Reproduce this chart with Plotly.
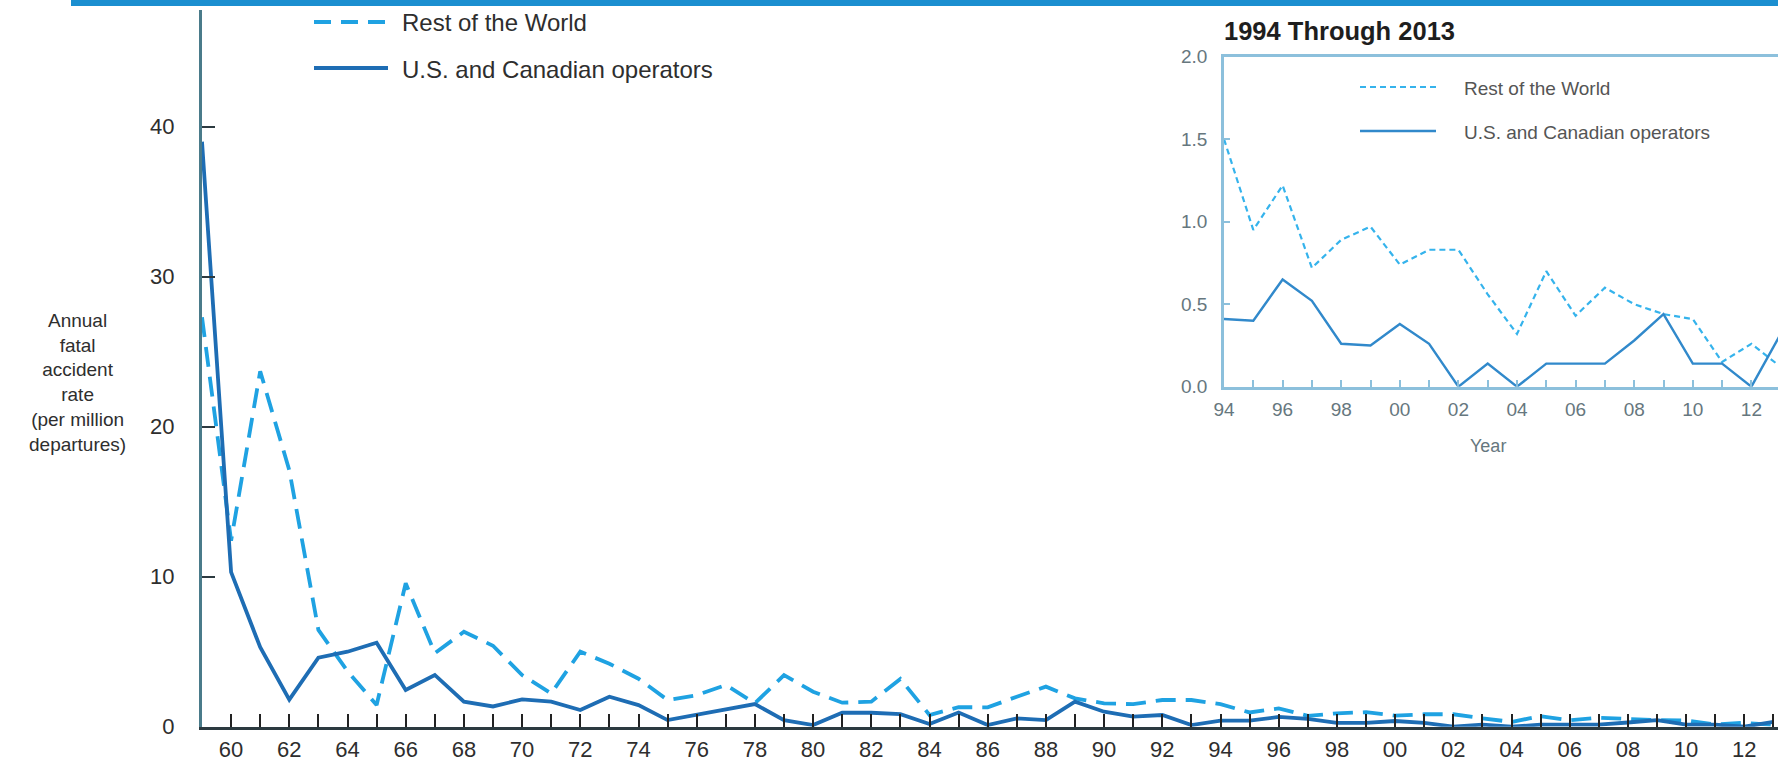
import plotly.graph_objects as go

# ---- data -------------------------------------------------------------
years_early = list(range(1959, 1994))
years_recent = list(range(1994, 2014))

us_canada_early = [39.0, 10.3, 5.3, 1.8, 4.6, 5.0, 5.6, 2.45, 3.45, 1.67,
                   1.35, 1.82, 1.67, 1.11, 2.0, 1.44, 0.44, 0.78, 1.11, 1.51,
                   0.44, 0.11, 0.93, 0.93, 0.84, 0.18, 0.95, 0.11, 0.56, 0.44,
                   1.67, 1.0, 0.67, 0.78, 0.11]
rest_world_early = [27.3, 12.4, 23.7, 17.1, 6.45, 3.7, 1.45, 9.56, 4.9, 6.33,
                    5.4, 3.44, 2.22, 5.0, 4.2, 3.2, 1.78, 2.1, 2.78, 1.56,
                    3.44, 2.33, 1.6, 1.67, 3.18, 0.78, 1.3, 1.29, 2.0, 2.67,
                    1.89, 1.56, 1.5, 1.78, 1.78]

us_canada_recent = [0.41, 0.40, 0.65, 0.52, 0.26, 0.25, 0.38, 0.26, 0.0, 0.14,
                    0.0, 0.14, 0.14, 0.14, 0.28, 0.44, 0.14, 0.14, 0.0, 0.32]
rest_world_recent = [1.5, 0.95, 1.22, 0.72, 0.89, 0.97, 0.74, 0.83, 0.83, 0.56,
                     0.32, 0.70, 0.43, 0.60, 0.50, 0.44, 0.41, 0.15, 0.26, 0.12]

main_tick_years = list(range(1960, 2013, 2))
main_tick_text = [f"{y % 100:02d}" for y in main_tick_years]
main_y_ticks = [0, 10, 20, 30, 40]
inset_tick_years = list(range(1994, 2013, 2))
inset_tick_text = [f"{y % 100:02d}" for y in inset_tick_years]
inset_y_ticks = [0.0, 0.5, 1.0, 1.5, 2.0]

LABEL_US = "U.S. and Canadian operators"
LABEL_ROW = "Rest of the World"
Y_TITLE_LINES = ["Annual", "fatal", "accident", "rate",
                 "(per million", "departures)"]

# ---- geometry helpers (pixel -> paper) ---------------------------------
W, H = 1778, 767


def px(x):
    return x / W


def py(y):
    return (H - y) / H


FONT = "Liberation Sans, Arial, Helvetica, sans-serif"
TEXT = "#2e2e2e"
DASH_MAIN = "#1fa2e2"
SOLID_MAIN = "#1e6db4"
DASH_INSET = "#35b3ec"
SOLID_INSET = "#3189cb"
INSET_AXIS = "#8cc0dc"
INSET_TEXT = "#66777e"

fig = go.Figure()

# main chart
fig.add_trace(go.Scatter(
    x=years_early + years_recent, y=rest_world_early + rest_world_recent,
    mode="lines", name=LABEL_ROW, showlegend=False,
    line=dict(color=DASH_MAIN, width=3.8, dash="20px,10px"),
    xaxis="x", yaxis="y"))
fig.add_trace(go.Scatter(
    x=years_early + years_recent, y=us_canada_early + us_canada_recent,
    mode="lines", name=LABEL_US, showlegend=False,
    line=dict(color=SOLID_MAIN, width=3.8),
    xaxis="x", yaxis="y"))

# inset chart
fig.add_trace(go.Scatter(
    x=years_recent, y=rest_world_recent, mode="lines", name=LABEL_ROW,
    showlegend=False, line=dict(color=DASH_INSET, width=2.2, dash="6px,4px"),
    xaxis="x2", yaxis="y2"))
fig.add_trace(go.Scatter(
    x=years_recent, y=us_canada_recent, mode="lines", name=LABEL_US,
    showlegend=False, line=dict(color=SOLID_INSET, width=2.4),
    xaxis="x2", yaxis="y2"))

main_left, main_bottom, main_top = 202, 726.7, 10
inset_left, inset_bottom, inset_top = 1224, 386.7, 56.7

fig.update_layout(
    width=W, height=H,
    margin=dict(l=0, r=0, t=0, b=0),
    paper_bgcolor="white", plot_bgcolor="rgba(0,0,0,0)",
    font=dict(family=FONT, color=TEXT),
    xaxis=dict(
        domain=[px(main_left), 1], anchor="y", automargin=False,
        range=[1959, 1959 + (W - main_left) / 29.1],
        tickvals=main_tick_years, ticktext=main_tick_text,
        ticks="inside", ticklen=13, tickwidth=2, tickcolor="#222222",
        minor=dict(ticks="inside", tick0=1959, dtick=1, ticklen=13,
                   tickwidth=2, tickcolor="#222222"),
        showline=True, linecolor="#2c3a40", linewidth=3,
        showgrid=False, zeroline=False,
        tickfont=dict(size=22, color=TEXT), ticklabelstandoff=1,
    ),
    yaxis=dict(
        domain=[py(main_bottom), py(main_top)], anchor="x", automargin=False,
        range=[0, (main_bottom - main_top) / 15.0],
        tickvals=main_y_ticks, ticktext=[str(v) for v in main_y_ticks],
        ticks="inside", ticklen=13, tickwidth=2, tickcolor="#2c3a40",
        showline=True, linecolor="#4a7b8a", linewidth=3,
        showgrid=False, zeroline=False,
        tickfont=dict(size=22, color=TEXT), ticklabelstandoff=20,
    ),
    xaxis2=dict(
        domain=[px(inset_left), 1], anchor="y2", automargin=False,
        range=[1994, 1994 + (W - inset_left) / 29.3],
        tickvals=inset_tick_years, ticktext=inset_tick_text,
        ticks="inside", ticklen=7, tickwidth=1.5, tickcolor=INSET_AXIS,
        minor=dict(ticks="inside", tick0=1994, dtick=1, ticklen=7,
                   tickwidth=1.5, tickcolor=INSET_AXIS),
        showline=True, mirror=True, linecolor=INSET_AXIS, linewidth=2.5,
        showgrid=False, zeroline=False,
        tickfont=dict(size=19, color=INSET_TEXT), ticklabelstandoff=4,
    ),
    yaxis2=dict(
        domain=[py(inset_bottom), py(inset_top)], anchor="x2", automargin=False,
        range=[0, 2],
        tickvals=inset_y_ticks, ticktext=[f"{v:.1f}" for v in inset_y_ticks],
        ticks="inside", ticklen=6, tickwidth=1.5, tickcolor=INSET_AXIS,
        showline=True, linecolor=INSET_AXIS, linewidth=2.5,
        showgrid=False, zeroline=False,
        tickfont=dict(size=19, color=INSET_TEXT), ticklabelstandoff=10,
    ),
)

shapes = [
    # rule across the top of the page
    dict(type="rect", xref="paper", yref="paper",
         x0=px(71), x1=1, y0=py(6), y1=1,
         fillcolor="#1b8fd0", line=dict(width=0)),
    # main legend samples
    dict(type="line", xref="paper", yref="paper",
         x0=px(314), x1=px(390), y0=py(22), y1=py(22),
         line=dict(color=DASH_MAIN, width=3.8, dash="17px,10px")),
    dict(type="line", xref="paper", yref="paper",
         x0=px(314), x1=px(388), y0=py(68), y1=py(68),
         line=dict(color=SOLID_MAIN, width=3.8)),
    # inset legend samples
    dict(type="line", xref="paper", yref="paper",
         x0=px(1360), x1=px(1437), y0=py(87), y1=py(87),
         line=dict(color=DASH_INSET, width=2.2, dash="6px,4px")),
    dict(type="line", xref="paper", yref="paper",
         x0=px(1360), x1=px(1436), y0=py(131), y1=py(131),
         line=dict(color=SOLID_INSET, width=2.4)),
]

annotations = [
    # y-axis title as one multi-line block
    dict(text="<br>".join(Y_TITLE_LINES), x=px(77), y=py(382),
         xref="paper", yref="paper", xanchor="center", yanchor="middle",
         showarrow=False, align="center",
         font=dict(size=19, color=TEXT)),
    dict(text=LABEL_ROW, x=px(400), y=py(23), xref="paper", yref="paper",
         xanchor="left", yanchor="middle", showarrow=False,
         font=dict(size=24, color=TEXT)),
    dict(text=LABEL_US, x=px(400), y=py(70), xref="paper", yref="paper",
         xanchor="left", yanchor="middle", showarrow=False,
         font=dict(size=24, color=TEXT)),
    dict(text="<b>1994 Through 2013</b>", x=px(1222), y=py(31),
         xref="paper", yref="paper", xanchor="left", yanchor="middle",
         showarrow=False, font=dict(size=25.5, color="#1e1e1e")),
    dict(text=LABEL_ROW, x=px(1462), y=py(88), xref="paper", yref="paper",
         xanchor="left", yanchor="middle", showarrow=False,
         font=dict(size=19, color="#555555")),
    dict(text=LABEL_US, x=px(1462), y=py(132), xref="paper", yref="paper",
         xanchor="left", yanchor="middle", showarrow=False,
         font=dict(size=19, color="#555555")),
    dict(text="Year", x=px(1488), y=py(446), xref="paper", yref="paper",
         xanchor="center", yanchor="middle", showarrow=False,
         font=dict(size=18, color=INSET_TEXT)),
]

fig.update_layout(shapes=shapes, annotations=annotations)

fig.write_html("out.html")
